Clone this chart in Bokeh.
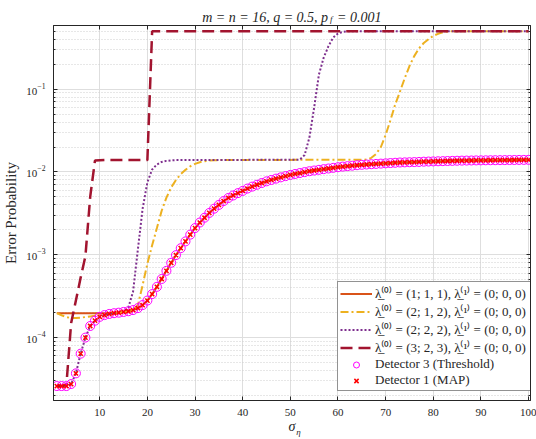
from bokeh.plotting import figure
from bokeh.models import (Range1d, LogAxis, LinearAxis, FixedTicker, Legend, LegendItem,
                          CustomJSTickFormatter)
from bokeh.embed import file_html
from bokeh.resources import INLINE

# ---------------- data ----------------
sigma = [1, 2, 3, 4, 5, 6, 7, 8, 9, 10,
         11, 12, 13, 14, 15, 16, 17, 18, 19, 20,
         21, 22, 23, 24, 25, 26, 27, 28, 29, 30,
         31, 32, 33, 34, 35, 36, 37, 38, 39, 40,
         41, 42, 43, 44, 45, 46, 47, 48, 49, 50,
         51, 52, 53, 54, 55, 56, 57, 58, 59, 60,
         61, 62, 63, 64, 65, 66, 67, 68, 69, 70,
         71, 72, 73, 74, 75, 76, 77, 78, 79, 80,
         81, 82, 83, 84, 85, 86, 87, 88, 89, 90,
         91, 92, 93, 94, 95, 96, 97, 98, 99, 100]

det3 = [2.6e-5, 2.6e-5, 2.6e-5, 2.75e-5, 3.7e-5, 6.4e-5, 1.0e-4, 1.38e-4, 1.6e-4, 1.78e-4,
        1.87e-4, 1.93e-4, 1.97e-4, 2.0e-4, 2.04e-4, 2.08e-4, 2.15e-4, 2.27e-4, 2.47e-4, 2.8e-4,
        3.35e-4, 4.1e-4, 5.1e-4, 6.4e-4, 8.0e-4, 9.9e-4, 1.2e-3, 1.45e-3, 1.75e-3, 2.1e-3,
        2.45e-3, 2.8e-3, 3.2e-3, 3.6e-3, 4.0e-3, 4.45e-3, 4.85e-3, 5.2e-3, 5.55e-3, 5.9e-3,
        6.3e-3, 6.65e-3, 7.0e-3, 7.35e-3, 7.7e-3, 8.0e-3, 8.3e-3, 8.6e-3, 8.9e-3, 9.2e-3,
        9.45e-3, 9.7e-3, 9.95e-3, 1.02e-2, 1.04e-2, 1.06e-2, 1.08e-2, 1.1e-2, 1.12e-2, 1.14e-2,
        1.16e-2, 1.175e-2, 1.19e-2, 1.205e-2, 1.22e-2, 1.23e-2, 1.24e-2, 1.25e-2, 1.26e-2, 1.27e-2,
        1.28e-2, 1.29e-2, 1.3e-2, 1.305e-2, 1.31e-2, 1.315e-2, 1.32e-2, 1.33e-2, 1.335e-2, 1.34e-2,
        1.345e-2, 1.35e-2, 1.355e-2, 1.36e-2, 1.365e-2, 1.37e-2, 1.372e-2, 1.375e-2, 1.378e-2, 1.38e-2,
        1.382e-2, 1.384e-2, 1.386e-2, 1.388e-2, 1.39e-2, 1.392e-2, 1.394e-2, 1.396e-2, 1.398e-2, 1.4e-2]

det1 = [2.6e-5, 2.6e-5, 2.6e-5, 2.75e-5, 3.7e-5, 6.4e-5, 1.0e-4, 1.38e-4, 1.6e-4, 1.78e-4,
        1.87e-4, 1.93e-4, 1.97e-4, 2.0e-4, 2.04e-4, 2.08e-4, 2.15e-4, 2.27e-4, 2.47e-4, 2.8e-4,
        3.35e-4, 4.1e-4, 5.1e-4, 6.4e-4, 8.0e-4, 9.9e-4, 1.2e-3, 1.45e-3, 1.75e-3, 2.1e-3,
        2.45e-3, 2.8e-3, 3.2e-3, 3.6e-3, 4.0e-3, 4.45e-3, 4.85e-3, 5.2e-3, 5.55e-3, 5.9e-3,
        6.3e-3, 6.65e-3, 7.0e-3, 7.35e-3, 7.7e-3, 8.0e-3, 8.3e-3, 8.6e-3, 8.9e-3, 9.2e-3,
        9.45e-3, 9.7e-3, 9.95e-3, 1.02e-2, 1.04e-2, 1.06e-2, 1.08e-2, 1.1e-2, 1.12e-2, 1.14e-2,
        1.16e-2, 1.175e-2, 1.19e-2, 1.205e-2, 1.22e-2, 1.23e-2, 1.24e-2, 1.25e-2, 1.26e-2, 1.27e-2,
        1.28e-2, 1.29e-2, 1.3e-2, 1.305e-2, 1.31e-2, 1.315e-2, 1.32e-2, 1.33e-2, 1.335e-2, 1.34e-2,
        1.345e-2, 1.35e-2, 1.355e-2, 1.36e-2, 1.365e-2, 1.37e-2, 1.372e-2, 1.375e-2, 1.378e-2, 1.38e-2,
        1.382e-2, 1.384e-2, 1.386e-2, 1.388e-2, 1.39e-2, 1.392e-2, 1.394e-2, 1.396e-2, 1.398e-2, 1.4e-2]

# lambda0 = (1;1,1)
lam111 = [1.97e-4, 1.97e-4, 1.97e-4, 1.97e-4, 1.97e-4, 1.97e-4, 1.97e-4, 1.97e-4, 1.97e-4, 1.97e-4,
          1.97e-4, 1.97e-4, 1.97e-4, 2.0e-4, 2.04e-4, 2.08e-4, 2.15e-4, 2.27e-4, 2.47e-4, 2.8e-4,
          3.35e-4, 4.1e-4, 5.1e-4, 6.4e-4, 8.0e-4, 9.9e-4, 1.2e-3, 1.45e-3, 1.75e-3, 2.1e-3,
          2.45e-3, 2.8e-3, 3.2e-3, 3.6e-3, 4.0e-3, 4.45e-3, 4.85e-3, 5.2e-3, 5.55e-3, 5.9e-3,
          6.3e-3, 6.65e-3, 7.0e-3, 7.35e-3, 7.7e-3, 8.0e-3, 8.3e-3, 8.6e-3, 8.9e-3, 9.2e-3,
          9.45e-3, 9.7e-3, 9.95e-3, 1.02e-2, 1.04e-2, 1.06e-2, 1.08e-2, 1.1e-2, 1.12e-2, 1.14e-2,
          1.16e-2, 1.175e-2, 1.19e-2, 1.205e-2, 1.22e-2, 1.23e-2, 1.24e-2, 1.25e-2, 1.26e-2, 1.27e-2,
          1.28e-2, 1.29e-2, 1.3e-2, 1.305e-2, 1.31e-2, 1.315e-2, 1.32e-2, 1.33e-2, 1.335e-2, 1.34e-2,
          1.345e-2, 1.35e-2, 1.355e-2, 1.36e-2, 1.365e-2, 1.37e-2, 1.372e-2, 1.375e-2, 1.378e-2, 1.38e-2,
          1.382e-2, 1.384e-2, 1.386e-2, 1.388e-2, 1.39e-2, 1.392e-2, 1.394e-2, 1.396e-2, 1.398e-2, 1.4e-2]

# lambda0 = (2;1,2)
lam212 = [1.97e-4, 1.86e-4, 1.77e-4, 1.72e-4, 1.72e-4, 1.74e-4, 1.77e-4, 1.8e-4, 1.83e-4, 1.86e-4,
          1.89e-4, 1.93e-4, 1.97e-4, 2.0e-4, 2.04e-4, 2.08e-4, 2.17e-4, 2.45e-4, 4.3e-4, 7.8e-4,
          1.3e-3, 2.1e-3, 3.4e-3, 4.9e-3, 6.5e-3, 8.0e-3, 9.4e-3, 1.06e-2, 1.17e-2, 1.25e-2,
          1.31e-2, 1.35e-2, 1.37e-2, 1.38e-2, 1.39e-2, 1.39e-2, 1.39e-2, 1.39e-2, 1.39e-2, 1.395e-2,
          1.395e-2, 1.395e-2, 1.395e-2, 1.395e-2, 1.395e-2, 1.395e-2, 1.395e-2, 1.395e-2, 1.395e-2, 1.395e-2,
          1.4e-2, 1.4e-2, 1.4e-2, 1.4e-2, 1.4e-2, 1.4e-2, 1.4e-2, 1.4e-2, 1.4e-2, 1.4e-2,
          1.4e-2, 1.4e-2, 1.4e-2, 1.4e-2, 1.4e-2, 1.41e-2, 1.48e-2, 1.65e-2, 2.0e-2, 2.8e-2,
          4.2e-2, 6.5e-2, 9.3e-2, 0.135, 0.19, 0.25, 0.31, 0.36, 0.40, 0.44,
          0.465, 0.485, 0.495, 0.5, 0.5, 0.5, 0.5, 0.5, 0.5, 0.5,
          0.5, 0.5, 0.5, 0.5, 0.5, 0.5, 0.5, 0.5, 0.5, 0.5]

# lambda0 = (2;2,2)
lam222 = [2.6e-5, 2.6e-5, 2.6e-5, 2.75e-5, 3.7e-5, 6.4e-5, 1.0e-4, 1.38e-4, 1.6e-4, 1.78e-4,
          1.87e-4, 1.93e-4, 1.97e-4, 2.0e-4, 2.04e-4, 2.3e-4, 3.6e-4, 1.15e-3, 3.6e-3, 7.5e-3,
          1.07e-2, 1.23e-2, 1.32e-2, 1.36e-2, 1.38e-2, 1.39e-2, 1.39e-2, 1.39e-2, 1.39e-2, 1.39e-2,
          1.39e-2, 1.39e-2, 1.39e-2, 1.39e-2, 1.39e-2, 1.39e-2, 1.39e-2, 1.39e-2, 1.39e-2, 1.39e-2,
          1.4e-2, 1.4e-2, 1.4e-2, 1.4e-2, 1.4e-2, 1.4e-2, 1.4e-2, 1.4e-2, 1.4e-2, 1.4e-2,
          1.4e-2, 1.41e-2, 1.6e-2, 2.6e-2, 6.0e-2, 0.15, 0.24, 0.33, 0.42, 0.47,
          0.49, 0.498, 0.5, 0.5, 0.5, 0.5, 0.5, 0.5, 0.5, 0.5,
          0.5, 0.5, 0.5, 0.5, 0.5, 0.5, 0.5, 0.5, 0.5, 0.5,
          0.5, 0.5, 0.5, 0.5, 0.5, 0.5, 0.5, 0.5, 0.5, 0.5,
          0.5, 0.5, 0.5, 0.5, 0.5, 0.5, 0.5, 0.5, 0.5, 0.5]

# lambda0 = (3;2,3)
lam323 = [2.6e-5, 2.6e-5, 2.65e-5, 1.5e-4, 2.8e-4, 5.3e-4, 9.6e-4, 5.0e-3, 1.37e-2, 1.38e-2,
          1.39e-2, 1.39e-2, 1.39e-2, 1.39e-2, 1.39e-2, 1.39e-2, 1.39e-2, 1.39e-2, 1.39e-2, 1.39e-2,
          0.5, 0.5, 0.5, 0.5, 0.5, 0.5, 0.5, 0.5, 0.5, 0.5,
          0.5, 0.5, 0.5, 0.5, 0.5, 0.5, 0.5, 0.5, 0.5, 0.5,
          0.5, 0.5, 0.5, 0.5, 0.5, 0.5, 0.5, 0.5, 0.5, 0.5,
          0.5, 0.5, 0.5, 0.5, 0.5, 0.5, 0.5, 0.5, 0.5, 0.5,
          0.5, 0.5, 0.5, 0.5, 0.5, 0.5, 0.5, 0.5, 0.5, 0.5,
          0.5, 0.5, 0.5, 0.5, 0.5, 0.5, 0.5, 0.5, 0.5, 0.5,
          0.5, 0.5, 0.5, 0.5, 0.5, 0.5, 0.5, 0.5, 0.5, 0.5,
          0.5, 0.5, 0.5, 0.5, 0.5, 0.5, 0.5, 0.5, 0.5, 0.5]

x_ticks = [10, 20, 30, 40, 50, 60, 70, 80, 90, 100]
y_ticks = [1e-4, 1e-3, 1e-2, 1e-1]
y_minor = [k * 10.0 ** e for e in range(-5, 0) for k in range(2, 10)]

legend_labels = [
    "λ̲⁽⁰⁾ = (1; 1, 1), λ̲⁽¹⁾ = (0; 0, 0)",
    "λ̲⁽⁰⁾ = (2; 1, 2), λ̲⁽¹⁾ = (0; 0, 0)",
    "λ̲⁽⁰⁾ = (2; 2, 2), λ̲⁽¹⁾ = (0; 0, 0)",
    "λ̲⁽⁰⁾ = (3; 2, 3), λ̲⁽¹⁾ = (0; 0, 0)",
    "Detector 3 (Threshold)",
    "Detector 1 (MAP)",
]

# title pieces: "m = n = 16, q = 0.5, p" + subscript "f" + "= 0.001"
title_main = ["m = n = 16, q = 0.5, p", "= 0.001"]
title_sub = "f"
x_label = "σ"
x_label_sub = "η"
y_label = "Error Probability"

FONT = "Liberation Serif"
AX = "#262626"

# frame geometry (canvas px)
FL, FR, FT, FB = 51, 530, 25, 403
X0, X1 = 0.3, 100.4


def px2x(px):
    """canvas pixel -> data x (for placing text pieces)"""
    return X0 + (px - FL) * (X1 - X0) / (FR - FL)


p = figure(width=536, height=439, output_backend="svg", toolbar_location=None,
           title=None, x_range=Range1d(X0, X1), y_range=Range1d(1.74e-5, 0.586),
           y_axis_type="log",
           min_border_left=FL, min_border_right=536 - FR,
           min_border_top=FT, min_border_bottom=439 - FB)
p.background_fill_color = "white"
p.border_fill_color = "white"
p.outline_line_color = AX
p.outline_line_width = 1

xt = FixedTicker(ticks=x_ticks)
yt = FixedTicker(ticks=y_ticks, minor_ticks=y_minor)

xa = p.xaxis[0]
xa.ticker = xt
ya = p.yaxis[0]
ya.ticker = yt

for ax in (xa, ya):
    ax.axis_line_color = AX
    ax.major_tick_line_color = AX
    ax.minor_tick_line_color = AX
    ax.major_tick_in = 4
    ax.major_tick_out = 0
    ax.minor_tick_out = 0
    ax.major_label_text_font = FONT
    ax.major_label_text_font_size = "11px"
    ax.major_label_text_color = AX
xa.minor_tick_in = 0
ya.minor_tick_in = 2
xa.major_label_standoff = 8
ya.major_label_standoff = 8
ya.axis_label = y_label
ya.axis_label_text_font = FONT
ya.axis_label_text_font_size = "15px"
ya.axis_label_text_font_style = "normal"
ya.axis_label_text_color = AX
ya.axis_label_standoff = 4
xa.axis_label = x_label
xa.axis_label_text_font = FONT
xa.axis_label_text_font_size = "14px"
xa.axis_label_text_font_style = "italic"
xa.axis_label_text_color = AX
xa.axis_label_standoff = 0

blank = CustomJSTickFormatter(code="return ''")
top = LinearAxis(ticker=FixedTicker(ticks=x_ticks), formatter=blank,
                 major_label_text_font_size="0px", major_label_standoff=0,
                 major_tick_in=4, major_tick_out=0, minor_tick_in=0, minor_tick_out=0,
                 axis_line_color=AX, major_tick_line_color=AX)
p.add_layout(top, "above")
right = LogAxis(ticker=FixedTicker(ticks=y_ticks, minor_ticks=y_minor), formatter=blank,
                major_label_text_font_size="0px", major_label_standoff=0,
                major_tick_in=4, major_tick_out=0, minor_tick_in=2, minor_tick_out=0,
                axis_line_color=AX, major_tick_line_color=AX, minor_tick_line_color=AX)
p.add_layout(right, "right")


def text_axis(positions, labels, size, style, standoff):
    ticks = [round(px2x(v), 3) for v in positions]
    return LinearAxis(ticker=FixedTicker(ticks=ticks, minor_ticks=[]),
                      major_label_overrides=dict(zip(ticks, labels)),
                      axis_line_color=None, major_tick_line_color=None,
                      minor_tick_line_color=None,
                      major_tick_in=0, major_tick_out=0, minor_tick_in=0, minor_tick_out=0,
                      major_label_standoff=standoff,
                      major_label_text_font=FONT, major_label_text_font_size=size,
                      major_label_text_font_style=style, major_label_text_color=AX)


# subscript "f" row (closest to frame), then main title row above it
p.add_layout(text_axis([330], [title_sub], "9px", "italic", 2), "above")
p.add_layout(text_axis([263.5, 358], title_main, "14px", "italic", -14), "above")
# subscript eta of the x-axis label
p.add_layout(text_axis([297], [x_label_sub], "9px", "italic", -10), "below")

p.xgrid.ticker = xt
p.xgrid.grid_line_color = "#dedede"
p.ygrid.ticker = yt
p.ygrid.grid_line_color = "#dedede"
p.ygrid.minor_grid_line_color = "#cfcfcf"
p.ygrid.minor_grid_line_dash = "1 2"

r_o = p.line(sigma, lam111, line_color="#D95319", line_width=2)
r_y = p.line(sigma, lam212, line_color="#EDB120", line_width=2, line_dash="8 3 2 3")
r_p = p.line(sigma, lam222, line_color="#7E2F8E", line_width=2, line_dash="2 2")
r_r = p.line(sigma, lam323, line_color="#A2142F", line_width=2.5, line_dash="12 6")
r_c = p.scatter(sigma, det3, marker="circle", size=9, fill_color=None,
                line_color="#FF00FF", line_width=1)
r_x = p.scatter(sigma, det1, marker="x", size=6, line_color="#FF0000", line_width=1.5)

rends = [r_o, r_y, r_p, r_r, r_c, r_x]
legend = Legend(items=[LegendItem(label=l, renderers=[r]) for l, r in zip(legend_labels, rends)],
                location=(284, 9), margin=0, padding=2, spacing=0,
                glyph_width=32, glyph_height=15, label_height=15, label_width=155,
                label_standoff=3,
                label_text_font=FONT, label_text_font_size="13px", label_text_color=AX,
                border_line_color=AX, border_line_width=1, background_fill_alpha=1.0)
p.add_layout(legend)

open("out.html", "w").write(file_html(p, INLINE))
